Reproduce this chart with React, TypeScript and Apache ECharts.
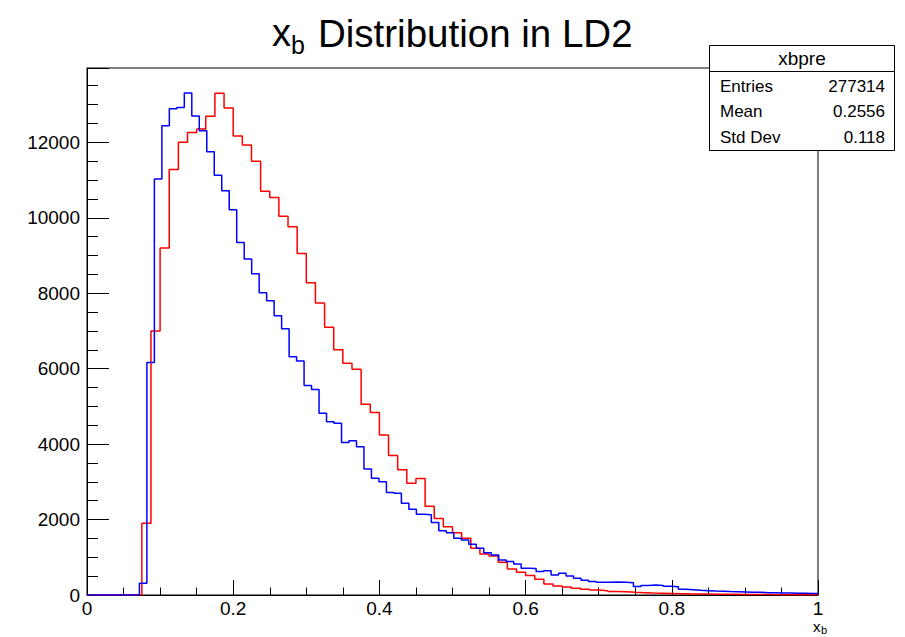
import React, { useEffect, useRef } from 'react';
import * as echarts from 'echarts';

// x axis (x_b), 0..1
const xMin = 0;
const xMax = 1;
const xLabelStep = 0.2;
const yMax = 13970;
const yLabelStep = 2000;

// red histogram "xbpre": 80 bins of width 0.0125 from 0
const redBinWidth = 0.0125;
const redCounts = [
  0, 0, 0, 0, 0, 0, 1900, 7000, 9200, 11280,
  12000, 12260, 12350, 12690, 13300, 12910, 12165, 11930, 11495, 10700,
  10540, 10040, 9765, 9050, 8280, 7740, 7095, 6500, 6145, 5985,
  5055, 4835, 4240, 3700, 3320, 2960, 3085, 2350, 2025, 1810,
  1652, 1503, 1238, 1090, 1035, 870, 690, 605, 515, 420,
  290, 240, 215, 180, 155, 130, 115, 95, 85, 70,
  62, 50, 45, 40, 35, 30, 28, 25, 22, 20,
  18, 15, 14, 12, 10, 9, 8, 7, 6, 5,
];

// blue histogram: bins of width ~0.01024 from 0
const blueBinWidth = 0.01024;
const blueCounts = [
  0, 0, 0, 0, 0, 0, 0, 310, 6160, 11025,
  12440, 12890, 12920, 13310, 12695, 12305, 11750, 11130, 10715, 10215,
  9345, 8910, 8515, 8010, 7800, 7400, 7055, 6315, 6205, 5555,
  5445, 4815, 4595, 4550, 4045, 4090, 3930, 3340, 3095, 3005,
  2720, 2695, 2430, 2270, 2140, 2130, 1925, 1705, 1650, 1505,
  1460, 1345, 1240, 1120, 1060, 930, 885, 820, 710, 705,
  620, 645, 530, 575, 505, 445, 390, 360, 340, 335,
  345, 340, 325, 225, 250, 262, 255, 235, 220, 155,
  140, 125, 115, 105, 100, 90, 85, 80, 70, 75,
  62, 58, 55, 50, 45, 45, 40, 40,
];

const statsTitle = 'xbpre';
const statsRows: [string, string][] = [
  ['Entries', '277314'],
  ['Mean', '0.2556'],
  ['Std Dev', '0.118'],
];

const FONT = '"Liberation Sans", Arial, Helvetica, sans-serif';

function stepData(counts: number[], w: number): [number, number][] {
  const pts: [number, number][] = counts.map((c, i) => [Math.min(i * w, xMax), c]);
  pts.push([Math.min(counts.length * w, xMax), counts[counts.length - 1]]);
  return pts;
}

export default function App() {
  const ref = useRef<HTMLDivElement>(null);
  useEffect(() => {
    if (!ref.current) return;
    const chart = echarts.init(ref.current, null, { renderer: 'svg' });
    const txt = (text: string, x: number, y: number, size: number, align = 'left') => ({
      type: 'text',
      x,
      y,
      z: 100,
      style: {
        text,
        fill: '#000',
        fontSize: size,
        fontFamily: FONT,
        align,
        verticalAlign: 'middle',
      },
    });
    const statsGraphics: any[] = [
      {
        type: 'rect',
        z: 99,
        shape: { x: 709.5, y: 45.5, width: 185, height: 105 },
        style: { fill: '#fff', stroke: '#000', lineWidth: 1 },
      },
      {
        type: 'line',
        z: 100,
        shape: { x1: 709.5, y1: 71.5, x2: 894.5, y2: 71.5 },
        style: { stroke: '#000', lineWidth: 1 },
      },
      txt(statsTitle, 802, 58, 19, 'center'),
    ];
    statsRows.forEach((r, i) => {
      statsGraphics.push(txt(r[0], 720, 86 + i * 25.5, 17, 'left'));
      statsGraphics.push(txt(r[1], 885, 86 + i * 25.5, 17, 'right'));
    });
    chart.setOption({
      animation: false,
      grid: {
        left: 87,
        right: 87,
        top: 68,
        bottom: 42,
        show: true,
        borderColor: '#000',
        borderWidth: 1,
        backgroundColor: 'transparent',
      },
      xAxis: {
        type: 'value',
        min: xMin,
        max: xMax,
        interval: xLabelStep,
        axisLine: { show: true, lineStyle: { color: '#000', width: 1 } },
        axisTick: { show: true, inside: true, length: 15, lineStyle: { color: '#000' } },
        minorTick: { show: true, splitNumber: 4, length: 7.5, lineStyle: { color: '#000' } },
        splitLine: { show: false },
        axisLabel: {
          color: '#000',
          fontSize: 19,
          fontFamily: FONT,
          margin: 4,
          formatter: (v: number) => String(Math.round(v * 10) / 10),
        },
      },
      yAxis: {
        type: 'value',
        min: 0,
        max: yMax,
        interval: yLabelStep,
        axisLine: { show: true, lineStyle: { color: '#000', width: 1 } },
        axisTick: { show: true, inside: true, length: 22, lineStyle: { color: '#000' } },
        minorTick: { show: true, splitNumber: 4, length: 11, lineStyle: { color: '#000' } },
        splitLine: { show: false },
        axisLabel: {
          color: '#000',
          fontSize: 19,
          fontFamily: FONT,
          margin: 7,
          showMaxLabel: false,
          formatter: (v: number) => String(v),
        },
      },
      series: [
        {
          type: 'line',
          step: 'end',
          symbol: 'none',
          data: stepData(redCounts, redBinWidth),
          lineStyle: { color: '#ff0000', width: 1.5 },
          z: 3,
        },
        {
          type: 'line',
          step: 'end',
          symbol: 'none',
          data: stepData(blueCounts, blueBinWidth),
          lineStyle: { color: '#0000ff', width: 1.5 },
          z: 4,
        },
      ],
      graphic: [
        txt('x', 272, 33, 38, 'left'),
        txt('b', 291, 45, 25, 'left'),
        txt('Distribution in LD2', 318, 33, 38.5, 'left'),
        txt('x', 813, 626, 15, 'left'),
        txt('b', 821, 630, 11, 'left'),
        ...statsGraphics,
      ],
    });
    return () => chart.dispose();
  }, []);
  return (
    <div
      ref={ref}
      style={{ position: 'fixed', left: 0, top: 0, width: 905, height: 637, background: '#fff' }}
    />
  );
}
